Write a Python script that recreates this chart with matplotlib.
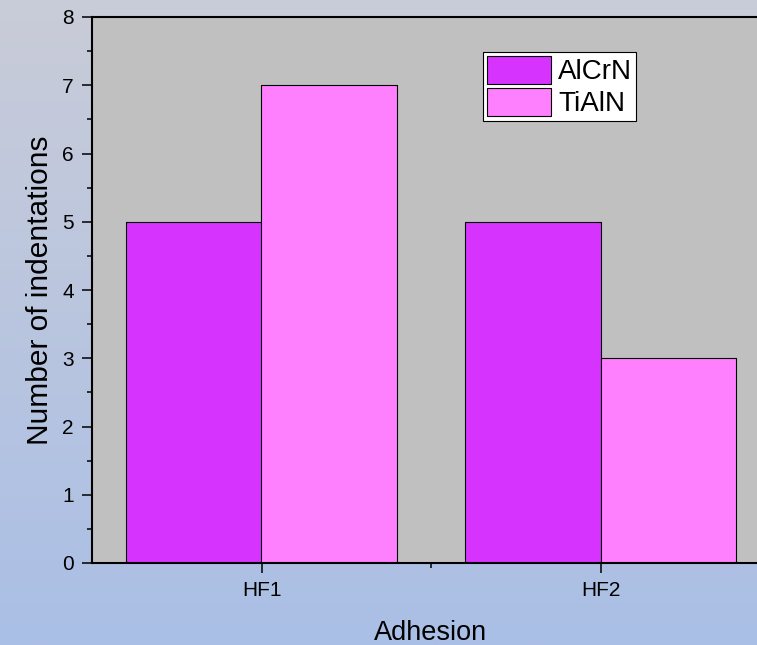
import numpy as np
import matplotlib
matplotlib.use('Agg')
import matplotlib.pyplot as plt
from matplotlib.colors import LinearSegmentedColormap
from matplotlib.ticker import MultipleLocator, FixedLocator

plt.rcParams['font.family'] = ['Liberation Sans', 'DejaVu Sans']

categories = ['HF1', 'HF2']
alcrn = [5, 5]
tialn = [7, 3]
series_names = ['AlCrN', 'TiAlN']

fig = plt.figure(figsize=(7.57, 6.45), dpi=100)

# gradient page background
bg = fig.add_axes([0, 0, 1, 1], zorder=-10)
grad = LinearSegmentedColormap.from_list('bg', ['#C9CCD8', '#AABFE6'])
bg.imshow(np.linspace(0, 1, 256).reshape(-1, 1), aspect='auto', cmap=grad,
          extent=[0, 1, 0, 1])
bg.set_axis_off()

ax = fig.add_axes([92 / 757, 1 - 563 / 645, (770 - 92) / 757, 546 / 645])
ax.set_facecolor('#C0C0C0')

x = np.arange(1, len(categories) + 1)
w = 0.4
ax.bar(x - w / 2, alcrn, w, color='#D633FF', edgecolor='black', linewidth=0.8,
       label=series_names[0])
ax.bar(x + w / 2, tialn, w, color='#FF80FF', edgecolor='black', linewidth=0.8,
       label=series_names[1])

ax.set_xlim(0.5, 2.5)
ax.set_ylim(0, 8)
ax.set_xticks(x)
ax.set_xticklabels(categories)
ax.xaxis.set_minor_locator(FixedLocator([1.5]))
ax.yaxis.set_major_locator(MultipleLocator(1))
ax.yaxis.set_minor_locator(MultipleLocator(0.5))

ax.tick_params(axis='both', which='major', direction='out', length=7, width=1.1,
               labelsize=15, pad=6)
ax.tick_params(axis='both', which='minor', direction='out', length=3.6, width=1.1)
ax.tick_params(top=False, right=False, which='both')

for s in ax.spines.values():
    s.set_linewidth(1.5)
    s.set_color('black')

ax.set_xlabel('Adhesion', fontsize=19.5, labelpad=14)
ax.set_ylabel('Number of indentations', fontsize=21.5, labelpad=6)

leg = ax.legend(loc='upper left', bbox_to_anchor=(0.577, 0.936), fontsize=20,
                fancybox=False, framealpha=1, edgecolor='black',
                handlelength=2.3, handleheight=1.15, labelspacing=0.1,
                borderpad=0.15, handletextpad=0.25, borderaxespad=0)
leg.get_frame().set_linewidth(0.8)

fig.savefig('out.png', dpi=100)
